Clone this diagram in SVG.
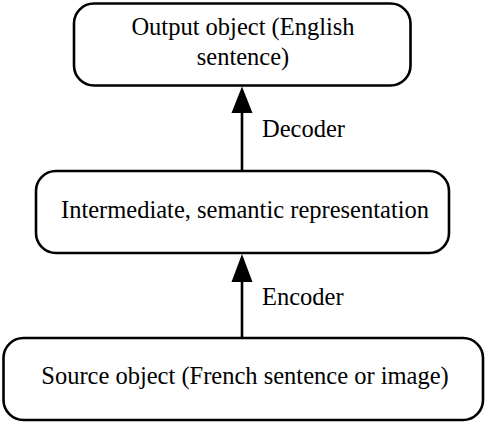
<svg xmlns="http://www.w3.org/2000/svg" width="485" height="423" viewBox="0 0 485 423">
<defs>
<style>
.box{fill:#fff;stroke:#000;stroke-width:2.6}
.t{font-family:'Liberation Serif','DejaVu Serif',serif;font-size:24.5px;fill:#000}
.edge{stroke:#000;stroke-width:2.6;fill:none}
</style>
</defs>
<rect width="485" height="423" fill="#fff"/>
<g id="connectors">
<path class="edge" d="M242,171 L242,110"/>
<polygon points="242,86.5 231.5,113 252.5,113" fill="#000"/>
<path class="edge" d="M242,338 L242,279"/>
<polygon points="242,254 231.5,282 252.5,282" fill="#000"/>
<text class="t" x="262" y="137">Decoder</text>
<text class="t" x="262" y="305">Encoder</text>
</g>
<g id="output">
<rect class="box" x="74" y="3.5" width="336.5" height="82" rx="20"/>
<text class="t" x="243" y="35" text-anchor="middle">Output object (English</text>
<text class="t" x="243" y="65" text-anchor="middle">sentence)</text>
</g>
<g id="intermediate">
<rect class="box" x="36" y="171" width="413" height="82" rx="20"/>
<text class="t" x="245" y="218" text-anchor="middle">Intermediate, semantic representation</text>
</g>
<g id="source">
<rect class="box" x="3.5" y="338" width="479.5" height="82" rx="20"/>
<text class="t" x="245" y="384" text-anchor="middle">Source object (French sentence or image)</text>
</g>
</svg>
